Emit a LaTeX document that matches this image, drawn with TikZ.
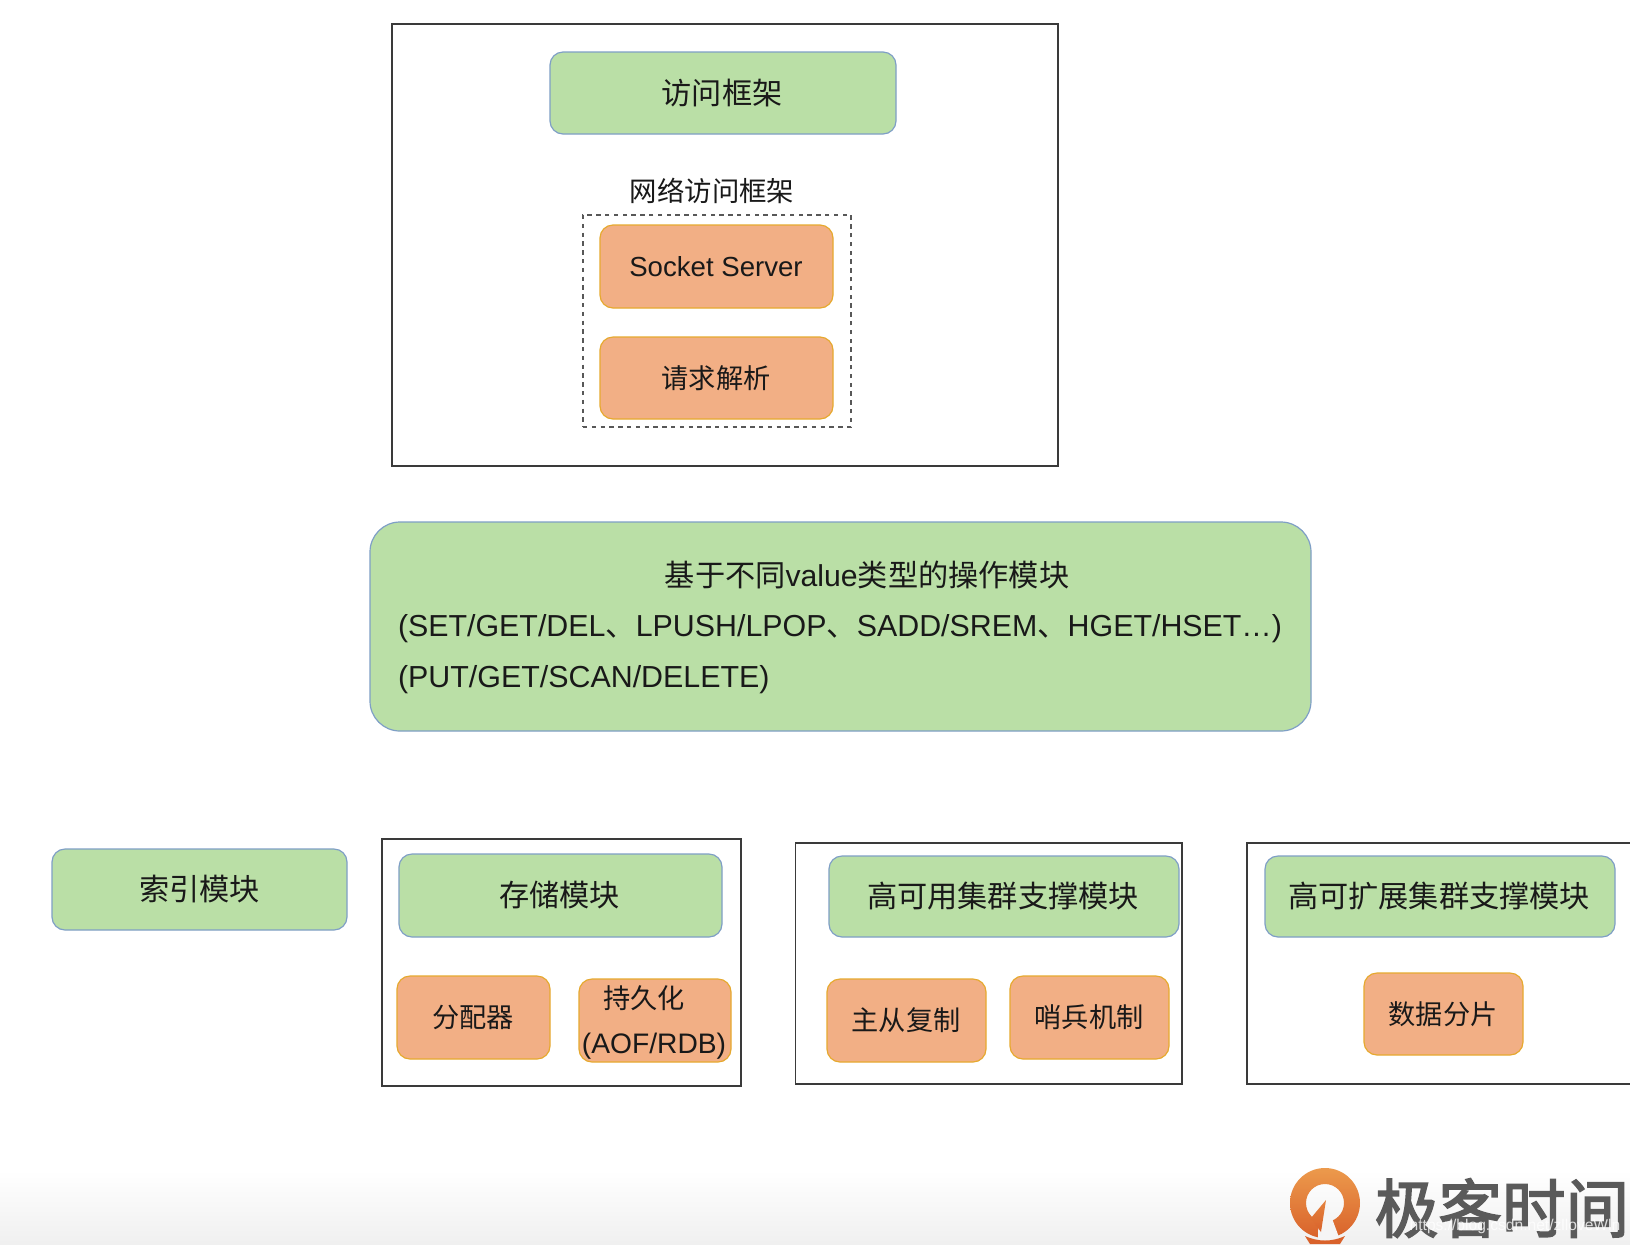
\documentclass[tikz,border=0pt]{standalone}
\usepackage{fontspec}
\setmainfont{Liberation Sans}
\newfontfamily\cjk{Noto Sans CJK SC}
\newfontfamily\cjklogo[FakeBold=2.5]{Noto Sans CJK SC}
\usetikzlibrary{calc}
\definecolor{greenfill}{HTML}{BADFA6}
\definecolor{greenline}{HTML}{7F9FC6}
\definecolor{orangefill}{HTML}{F2AF85}
\definecolor{orangeline}{HTML}{E6A92F}
\definecolor{frameline}{HTML}{3A3A3A}
\definecolor{logotext}{HTML}{5A5A5A}
\definecolor{logotop}{HTML}{EC9A4C}
\definecolor{logobot}{HTML}{D9622B}
\tikzset{
  x=0.5pt,y=-0.5pt,
  framebox/.style={draw=frameline,line width=0.65pt,fill=white,inner sep=0pt,outer sep=0pt},
  dashbox/.style={draw=frameline!85,line width=0.55pt,dash pattern=on 2.2pt off 2.2pt,inner sep=0pt,outer sep=0pt},
  greenbox/.style={draw=greenline,line width=0.6pt,fill=greenfill,rounded corners=6.5pt,inner sep=0pt,outer sep=0pt,font=\fontsize{15.1}{18}\selectfont\cjk,text=black!90},
  orangebox/.style={draw=orangeline,line width=0.6pt,fill=orangefill,rounded corners=6.5pt,inner sep=0pt,outer sep=0pt,font=\fontsize{13.6}{16}\selectfont\cjk,text=black!90},
  plainlabel/.style={inner sep=0pt,outer sep=0pt,text=black!90},
}
% \bx{name}{style}{x1}{y1}{x2}{y2}{text}
\newcommand{\bx}[7]{%
  \pgfmathsetmacro{\bw}{(#5-#3)*0.5}%
  \pgfmathsetmacro{\bh}{(#6-#4)*0.5}%
  \node[#2,minimum width=\bw pt,minimum height=\bh pt] (#1) at ({(#3+#5)/2},{(#4+#6)/2}) {#7};%
}
\begin{document}
\begin{tikzpicture}
\useasboundingbox (0,0) rectangle (1630,1244);
\fill[white] (0,0) rectangle (1630,1244);
\shade[top color=white,bottom color=black!6] (0,1170) rectangle (1630,1244);
% top group
\bx{topframe}{framebox}{392}{24}{1058}{466}{}
\bx{access}{greenbox}{550}{52}{896}{134}{\hspace{-1pt}访问框架}
\node[plainlabel,font=\fontsize{13.7}{16}\selectfont\cjk] (netlabel) at (712,191) {网络访问框架};
\bx{netdash}{dashbox}{583}{215}{851}{427}{}
\bx{socket}{orangebox}{600}{225}{833}{308}{\fontsize{13.8}{16}\selectfont\rmfamily\hspace{-0.5pt}Socket Server}
\bx{parse}{orangebox}{600}{337}{833}{419}{\hspace{-0.5pt}请求解析}
% operations
\bx{ops}{greenbox,rounded corners=15pt}{370}{522}{1311}{731}{}
\node[plainlabel,font=\fontsize{15.1}{18}\selectfont\cjk] (opsa) at (867,575) {基于不同{\rmfamily value}类型的操作模块};
\node[plainlabel,anchor=west,font=\fontsize{15.18}{18}\selectfont\rmfamily] (opsb) at (398,629) {(SET/GET/DEL{\cjk 、}LPUSH/LPOP{\cjk 、}SADD/SREM{\cjk 、}HGET/HSET…)};
\node[plainlabel,anchor=west,font=\fontsize{15.2}{18}\selectfont\rmfamily] (opsc) at (398,680) {(PUT/GET/SCAN/DELETE)};
% index
\bx{index}{greenbox}{52}{849}{347}{930}{索引模块}
% storage
\bx{storeframe}{framebox}{382}{839}{741}{1086}{}
\bx{store}{greenbox}{399}{854}{722}{937}{\hspace{-1pt}存储模块}
\bx{alloc}{orangebox}{397}{976}{550}{1059}{\hspace{-0.5pt}分配器}
\bx{persist}{orangebox}{579}{979}{731}{1062}{}
\node[plainlabel,font=\fontsize{13.6}{16}\selectfont\cjk] (persista) at (644,998) {持久化};
\node[plainlabel,font=\fontsize{14.1}{16}\selectfont\rmfamily] (persistb) at (654,1046) {(AOF/RDB)};
% HA
\bx{haframe}{framebox}{795.5}{843}{1182}{1084}{}
\bx{ha}{greenbox}{829}{856}{1179}{937}{\hspace{-1pt}高可用集群支撑模块}
\bx{repl}{orangebox}{827}{979}{986}{1062}{\hspace{-0.5pt}主从复制}
\bx{sentinel}{orangebox}{1010}{976}{1169}{1059}{\hspace{-0.5pt}哨兵机制}
% scale
\draw[frameline,line width=0.65pt] (1630,843) -- (1247,843) -- (1247,1084) -- (1630,1084);
\bx{scale}{greenbox}{1265}{856}{1615}{937}{\hspace{-1pt}高可扩展集群支撑模块}
\bx{shard}{orangebox}{1364}{973}{1523}{1055}{\hspace{-0.5pt}数据分片}
% logo
\begin{scope}
\clip (1280,1160) rectangle (1370,1244);
\shade[top color=logotop,bottom color=logobot,even odd rule]
  (1325,1203) circle (35) (1325,1203) circle (19);
\fill[white!96!black] (1318,1232) -- (1321,1205) -- (1327,1205) -- (1340,1240) -- (1318,1244) -- cycle;
\shade[top color=logotop!60!logobot,bottom color=logobot] (1326,1200) -- (1311,1218) -- (1321,1232) -- cycle;
\fill[logobot] (1305,1236) .. controls (1318,1242) and (1332,1242) .. (1345,1236) -- (1340,1244) -- (1310,1244) -- cycle;
\end{scope}
\node[plainlabel,text=logotext,font=\fontsize{31.8}{34}\selectfont\cjklogo] (logotext) at (1502,1208) {极客时间};
\node[plainlabel,text=white,opacity=0.8,font=\fontsize{7.8}{10}\selectfont\rmfamily] (mark) at (1515,1226) {https://blog.csdn.net/zlloveWln};
\end{tikzpicture}
\end{document}
